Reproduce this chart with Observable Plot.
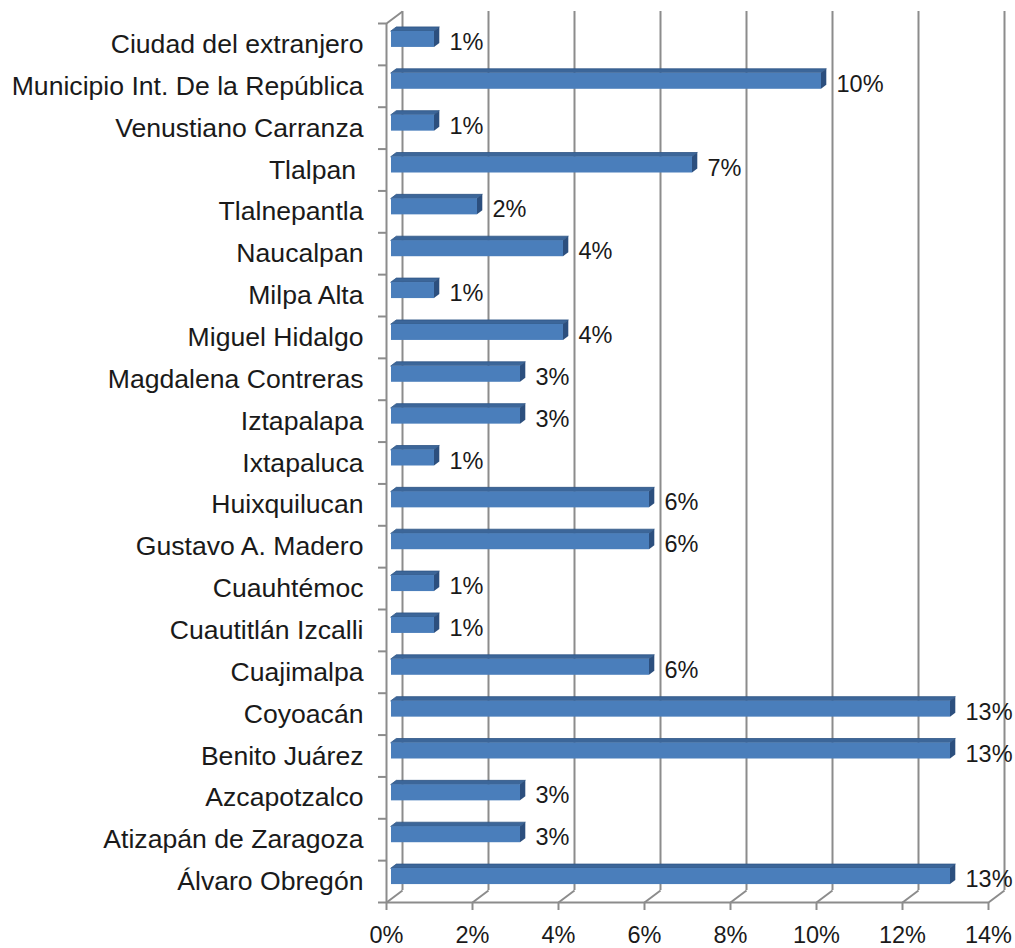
<!DOCTYPE html>
<html>
<head>
<meta charset="utf-8">
<script src="https://cdn.jsdelivr.net/npm/d3@7"></script>
<script src="https://cdn.jsdelivr.net/npm/@observablehq/plot@0.6"></script>
<style>
  body { margin: 0; background: #fff; }
  #chart svg { display: block; }
</style>
</head>
<body>
<div id="chart"></div>
<script>
const categories = [
  "Ciudad del extranjero",
  "Municipio Int. De la República",
  "Venustiano Carranza",
  "Tlalpan\u00a0",
  "Tlalnepantla",
  "Naucalpan",
  "Milpa Alta",
  "Miguel Hidalgo",
  "Magdalena Contreras",
  "Iztapalapa",
  "Ixtapaluca",
  "Huixquilucan",
  "Gustavo A. Madero",
  "Cuauhtémoc",
  "Cuautitlán Izcalli",
  "Cuajimalpa",
  "Coyoacán",
  "Benito Juárez",
  "Azcapotzalco",
  "Atizapán de Zaragoza",
  "Álvaro Obregón"
];
const values = [1, 10, 1, 7, 2, 4, 1, 4, 3, 3, 1, 6, 6, 1, 1, 6, 13, 13, 3, 3, 13];
const xTicks = [0, 2, 4, 6, 8, 10, 12, 14];

const W = 1015, H = 948;
const mL = 386, mR = 27, mT = 23, mB = 46;
const n = categories.length;
const xMax = 14;
// pixel -> data unit conversion (for the 3D depth effect)
const kx = xMax / (W - mL - mR);
const ky = n / (H - mT - mB);

const rows = values.map((v, i) => ({i, v, name: categories[i], label: v + "%"}));
const top0 = -0.5, bot0 = n - 0.5;
const depthX = 16 * kx, depthY = 12 * ky;       // floor/wall depth
const barDX = 5.3 * kx, barDY = 4 * ky;          // bar depth
const hh = 8 * ky;                               // half bar height

const topFace = rows.flatMap(d => [
  {i: d.i, y: d.i - hh, x1: 0, x2: d.v},
  {i: d.i, y: d.i - hh - barDY, x1: barDX, x2: d.v + barDX}
]);
const sideFace = rows.flatMap(d => [
  {i: d.i, x: d.v, y1: d.i - hh, y2: d.i + hh},
  {i: d.i, x: d.v + barDX, y1: d.i - hh - barDY, y2: d.i + hh - barDY}
]);
const boundaries = d3.range(n + 1).map(k => k - 0.5);
const grid = "#8c8c8c";

const chart = Plot.plot({
  width: W,
  height: H,
  marginLeft: mL,
  marginRight: mR,
  marginTop: mT,
  marginBottom: mB,
  style: {fontFamily: "'Liberation Sans', Arial, sans-serif", fontSize: "22px", color: "#1a1a1a", background: "#fff"},
  x: {domain: [0, xMax], axis: null},
  y: {domain: [bot0, top0], axis: null},
  marks: [
    // back wall gridlines
    Plot.ruleX(xTicks, {x: d => d, y1: top0, y2: bot0, dx: 16, dy: -12, stroke: grid, strokeWidth: 2}),
    // floor diagonals
    Plot.link(xTicks, {x1: d => d, x2: d => d + depthX, y1: bot0, y2: bot0 - depthY, stroke: grid, strokeWidth: 2}),
    // left wall top diagonal
    Plot.link([0], {x1: 0, x2: depthX, y1: top0, y2: top0 - depthY, stroke: grid, strokeWidth: 2}),
    // front axis lines
    Plot.ruleY([bot0], {x1: 0, x2: xMax, stroke: grid, strokeWidth: 2}),
    Plot.ruleX([0], {y1: top0, y2: bot0, stroke: grid, strokeWidth: 2}),
    Plot.axisX({ticks: xTicks, tickFormat: d => d + "%", tickSize: 8, tickPadding: 16, stroke: grid, strokeWidth: 2, fontSize: 23.5, anchor: "bottom"}),
    Plot.axisY({ticks: boundaries, tickFormat: () => "", tickSize: 8, stroke: grid, strokeWidth: 2, anchor: "left"}),
    Plot.axisY({ticks: d3.range(n), tickFormat: i => categories[i], tickSize: 0, tickPadding: 23, fontSize: 26.6, anchor: "left"}),
    // bars (3D)
    Plot.areaX(topFace, {y: "y", x1: "x1", x2: "x2", z: "i", fill: "#3c6699", stroke: "#2f5585", strokeWidth: 0.8, dx: 5, dy: -5}),
    Plot.areaY(sideFace, {x: "x", y1: "y1", y2: "y2", z: "i", fill: "#2c4f7e", dx: 5, dy: -5}),
    Plot.rect(rows, {x1: 0, x2: "v", y1: d => d.i - hh, y2: d => d.i + hh, fill: "#4a7ebb", dx: 5, dy: -5}),
    // value labels
    Plot.text(rows, {x: "v", y: "i", text: "label", dx: 20, dy: -2, textAnchor: "start", lineAnchor: "middle", fontSize: 23.5, fill: "#1a1a1a"})
  ]
});
document.getElementById("chart").appendChild(chart);
</script>
</body>
</html>
